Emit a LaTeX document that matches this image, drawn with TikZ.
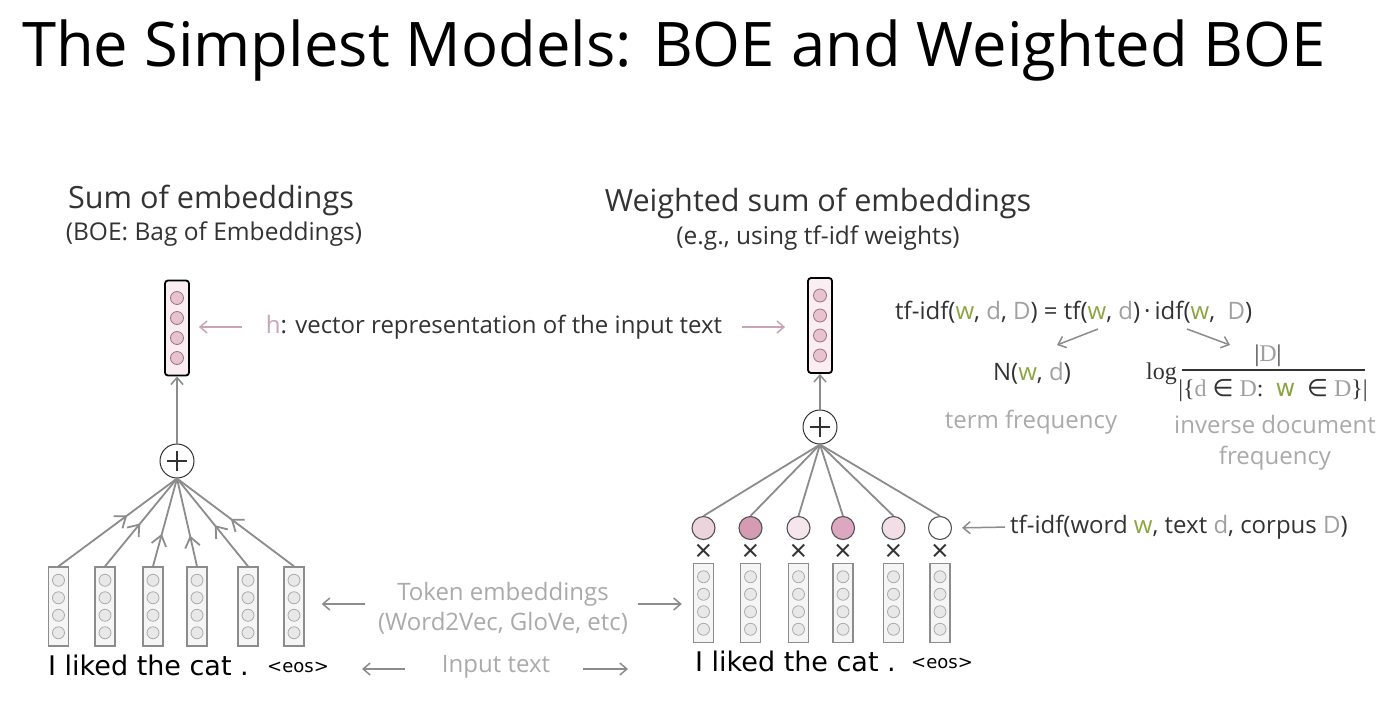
\documentclass[tikz,border=0pt]{standalone}
\usepackage{fontspec}
\setmainfont{Open Sans}
\newfontfamily\handfont{DejaVu Sans}
\newfontfamily\fracfont{Liberation Serif}
\newfontfamily\symfont{DejaVu Sans}
\usetikzlibrary{arrows.meta,decorations.markings}

\definecolor{ink}{HTML}{333333}
\definecolor{softgray}{HTML}{AAAAAA}
\definecolor{letgray}{HTML}{A0A0A0}
\definecolor{pinkline}{HTML}{C9A3B6}
\definecolor{wgreen}{HTML}{8BA63F}
\definecolor{linegray}{HTML}{8C8C8C}
\definecolor{hfill}{HTML}{FBEEF2}
\definecolor{hdotfill}{HTML}{E6C3CF}
\definecolor{hdotline}{HTML}{9C7080}
\definecolor{tokfill}{HTML}{F5F5F5}
\definecolor{tokdotfill}{HTML}{E8E8E8}
\definecolor{wA}{HTML}{EDD3DE}
\definecolor{wB}{HTML}{D49BB3}
\definecolor{wC}{HTML}{F4E6EC}
\definecolor{wD}{HTML}{DCA8BF}
\definecolor{wE}{HTML}{F1DEE6}
\definecolor{wF}{HTML}{FFFFFF}

\newcommand\clrw{\textcolor{wgreen}{w}}
\newcommand\clrd{\textcolor{letgray}{d}}
\newcommand\clrD{\textcolor{letgray}{D}}

\tikzset{
  hbox/.style={draw=black, line width=1.8pt, rounded corners=3pt, fill=hfill,
    minimum width=24pt, minimum height=95pt, inner sep=0pt},
  hdot/.style={draw=hdotline, fill=hdotfill, line width=0.8pt},
  tokbox/.style={draw=linegray, line width=1.4pt, fill=tokfill,
    minimum width=20pt, minimum height=79pt, inner sep=0pt},
  tokdot/.style={draw=softgray, fill=tokdotfill, line width=0.8pt},
  plusnode/.style={circle, draw=ink, line width=1pt, fill=white,
    minimum size=34pt, inner sep=0pt},
  wcirc/.style={circle, draw=ink!85, line width=1.1pt, minimum size=23pt, inner sep=0pt},
  barb/.tip={Straight Barb[length=7pt, width=12pt, line width=1.5pt]},
  bigbarb/.tip={Straight Barb[length=10pt, width=15pt, line width=1.8pt]},
  grayarr/.style={draw=linegray, line width=1.5pt, -barb},
  pinkarr/.style={draw=pinkline, line width=1.5pt, -barb},
  fan/.style={draw=linegray, line width=1.8pt},
  midarrow/.style={postaction={decorate}, decoration={markings,
    mark=at position #1 with {\arrow{bigbarb}}}},
  head/.style={font=\fontsize{30.6}{36}\selectfont, text=ink},
  subhead/.style={font=\fontsize{24.5}{28}\selectfont, text=ink},
  body/.style={font=\fontsize{24}{29}\selectfont, text=ink},
  note/.style={font=\fontsize{24}{30}\selectfont, text=softgray, align=center},
  handtext/.style={font=\handfont\fontsize{27}{30}\selectfont, text=black, inner sep=0pt},
  eostext/.style={font=\handfont\fontsize{18}{22}\selectfont, text=black, inner sep=0pt},
  times/.style={font=\fontsize{30}{30}\selectfont, text=ink, inner sep=0pt}
}

\begin{document}
\begin{tikzpicture}[x=1pt, y=-1pt]
\fill[white] (0,0) rectangle (1394,710);
\useasboundingbox (0,0) rectangle (1394,710);

% title
\node[anchor=base west, inner sep=0pt, font=\fontsize{61.5}{70}\selectfont, text=black]
  (title) at (22,66) {The Simplest Models: BOE and Weighted BOE};

% ---------- left: plain sum ----------
\node[head] (sumtitle) at (211,200) {Sum of embeddings};
\node[subhead] (sumsub) at (214,234) {(BOE: Bag of Embeddings)};

\node[hbox] (hL) at (177,328) {};
\foreach \dy in {-30,-10,10,30}
  \draw[hdot] ([yshift=\dy pt]hL.center) circle (6.5);

\node[plusnode] (pL) at (177,461) {};
\draw[ink, line width=1.3pt] ([xshift=-10pt]pL.center) -- ([xshift=10pt]pL.center)
  ([yshift=-10pt]pL.center) -- ([yshift=10pt]pL.center);
\draw[grayarr] (pL) -- (hL);

\foreach \i/\x in {1/58.5,2/105,3/153,4/197,5/248,6/294} {
  \node[tokbox] (tL\i) at (\x,606.5) {};
  \foreach \dy in {-26.25,-8.75,8.75,26.25}
    \draw[tokdot] ([yshift=\dy pt]tL\i.center) circle (6);
}
\foreach \i/\p in {1/0.58,2/0.49,3/0.37,4/0.35,5/0.47,6/0.54}
  \draw[fan, midarrow=\p] (tL\i.north) -- (pL.south);

\node[handtext, anchor=base west] (wordsL) at (48,675) {I liked the cat .};
\node[eostext, anchor=base west] (eosL) at (267,672) {<eos>};

% ---------- middle labels ----------
\node[body] (hlabel) at (494,327) {\textcolor{pinkline}{h}: vector representation of the input text};
\draw[pinkarr, shorten <=20pt, shorten >=9pt] (hlabel.west) -- (hlabel.west -| hL.east);

\node[note] (tokemb) at (503,608) {Token embeddings\\(Word2Vec, GloVe, etc)};
\coordinate (tokLfrom) at (365,604);
\coordinate (tokRfrom) at (638,604);
\draw[grayarr, shorten >=17pt] (tokLfrom) -- (tokLfrom -| tL6.east);

\node[note] (inptext) at (496,667) {Input text};
\coordinate (inLfrom) at (405,669);
\coordinate (inRfrom) at (583,669);
\coordinate (inLto) at (362,669);
\coordinate (inRto) at (628,669);
\draw[grayarr] (inLfrom) -- (inLto);
\draw[grayarr] (inRfrom) -- (inRto);

% ---------- right: weighted sum ----------
\node[head] (wtitle) at (818,203) {Weighted sum of embeddings};
\node[subhead] (wsub) at (818,238) {(e.g., using tf-idf weights)};

\node[hbox] (hR) at (820,325.5) {};
\foreach \dy in {-30,-10,10,30}
  \draw[hdot] ([yshift=\dy pt]hR.center) circle (6.5);
\draw[pinkarr, shorten <=16pt, shorten >=22pt] (hlabel.east) -- (hlabel.east -| hR.west);

\node[plusnode] (pR) at (820,427) {};
\draw[ink, line width=1.3pt] ([xshift=-10pt]pR.center) -- ([xshift=10pt]pR.center)
  ([yshift=-10pt]pR.center) -- ([yshift=10pt]pR.center);
\draw[grayarr] (pR) -- (hR);

\foreach \i/\x/\c in {1/703.5/wA,2/750.5/wB,3/798.5/wC,4/843/wD,5/893.5/wE,6/940/wF} {
  \node[wcirc, fill=\c] (w\i) at (\x,528) {};
  \node[times] (x\i) at (\x,553) {×};
  \node[tokbox] (tR\i) at (\x,603) {};
  \foreach \dy in {-26.25,-8.75,8.75,26.25}
    \draw[tokdot] ([yshift=\dy pt]tR\i.center) circle (6);
  \draw[fan] (w\i.north) -- (pR.south);
}
\draw[grayarr, shorten >=11pt] (tokRfrom) -- (tokRfrom -| tR1.west);

\node[handtext, anchor=base west] (wordsR) at (695,671) {I liked the cat .};
\node[eostext, anchor=base west] (eosR) at (911,668) {<eos>};

\node[body, anchor=west, inner sep=0pt] (wlabel) at (1010,527)
  {tf-idf(word \clrw, text \clrd, corpus \clrD)};
\draw[grayarr, shorten <=5pt, shorten >=10pt] (wlabel.west) -- (w6.east);

% ---------- tf-idf formula ----------
\node[body, anchor=west, inner sep=0pt] (formula) at (895,312)
  {tf-idf(\clrw, \clrd, \clrD)\ = tf(\clrw, \clrd)\,·\,idf(\clrw,\ \ \clrD)};
\coordinate (tfFrom) at (1098,329);
\coordinate (tfTo) at (1057,345);
\coordinate (idfFrom) at (1187,329);
\coordinate (idfTo) at (1230,345);
\draw[grayarr] (tfFrom) -- (tfTo);
\draw[grayarr] (idfFrom) -- (idfTo);

\node[body] (ntf) at (1032,373) {N(\clrw, \clrd)};
\node[anchor=base west, inner sep=0pt, font=\fracfont\fontsize{24}{28}\selectfont, text=ink]
  (logword) at (1146,379) {log};
\node[inner sep=0pt, font=\fracfont\fontsize{24}{28}\selectfont, text=ink]
  (numer) at (1268,356) {|\clrD|};
\node[inner sep=0pt, font=\fracfont\fontsize{24}{28}\selectfont, text=ink]
  (denom) at (1273,391) {|\{\clrd\ {\symfont ∈} \clrD:\ \ {\symfont\textcolor{wgreen}{w}}\ \ {\symfont ∈} \clrD\}|};
\draw[ink, line width=1.2pt] (1182,370) -- (1365,370);

\node[note] (tfname) at (1031,422) {term frequency};
\node[note, font=\fontsize{24}{31}\selectfont] (idfname) at (1275,443) {inverse document\\frequency};

\end{tikzpicture}
\end{document}
